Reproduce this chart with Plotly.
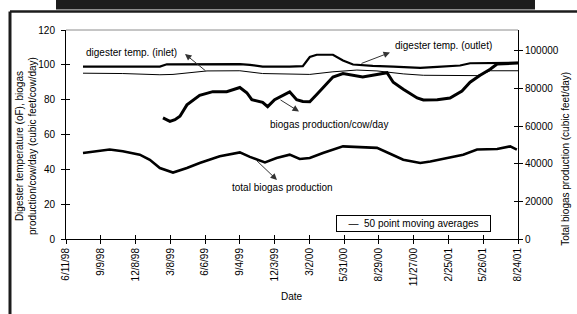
import plotly.graph_objects as go

# ---------------- data ----------------
outlet_dates = ["1998-07-25", "1998-09-07", "1998-11-05", "1999-01-14", "1999-02-09",
                "1999-02-27", "1999-06-11", "1999-09-04", "1999-09-30", "1999-11-02",
                "2000-01-11", "2000-02-14", "2000-03-03", "2000-03-21", "2000-05-02",
                "2000-05-28", "2000-06-23", "2000-08-13", "2000-10-05", "2000-12-14",
                "2001-01-27", "2001-03-27", "2001-04-22", "2001-06-13", "2001-08-24"]
outlet_temp = [99.0, 99.0, 98.9, 99.0, 99.0,
               100.3, 100.4, 100.4, 100.0, 99.0,
               99.0, 99.3, 104.5, 105.8, 105.8,
               102.5, 100.2, 99.4, 99.0, 98.3,
               98.8, 99.6, 100.9, 101.1, 101.2]

inlet_dates = ["1998-07-25", "1998-11-05", "1999-02-09", "1999-03-15", "1999-06-11",
               "1999-09-04", "1999-11-02", "2000-01-11", "2000-03-03", "2000-05-02",
               "2000-07-03", "2000-08-24", "2000-10-31", "2000-12-22", "2001-05-10",
               "2001-06-01", "2001-06-13", "2001-08-24"]
inlet_temp = [95.2, 95.0, 94.3, 94.5, 96.5,
              96.6, 95.0, 94.5, 94.5, 96.0,
              97.0, 96.5, 94.8, 94.0, 93.8,
              95.5, 96.6, 96.6]

cow_dates = ["1999-02-17", "1999-03-07", "1999-03-20", "1999-04-02", "1999-04-20",
             "1999-05-23", "1999-06-26", "1999-08-01", "1999-09-04", "1999-09-22",
             "1999-10-05", "1999-11-02", "1999-11-15", "1999-12-03", "2000-01-11",
             "2000-01-29", "2000-02-14", "2000-03-03", "2000-03-21", "2000-04-16",
             "2000-05-02", "2000-05-28", "2000-06-23", "2000-07-18", "2000-08-24",
             "2000-09-19", "2000-10-05", "2000-10-31", "2000-12-06", "2000-12-22",
             "2001-01-27", "2001-03-01", "2001-04-01", "2001-04-22", "2001-05-18",
             "2001-06-13", "2001-07-01", "2001-08-24"]
cow_biogas = [69.5, 67.5, 68.5, 70.5, 77.0,
              82.5, 84.6, 84.6, 87.0, 84.0,
              80.0, 78.5, 76.0, 80.0, 84.5,
              80.0, 79.0, 78.8, 83.0, 89.0,
              93.0, 95.0, 94.0, 93.0, 94.5,
              95.5, 90.0, 86.0, 81.0, 79.8,
              80.0, 81.0, 85.0, 90.0, 94.0,
              97.5, 100.5, 101.0]

total_dates = ["1998-07-25", "1998-08-04", "1998-09-07", "1998-10-02", "1998-11-05",
               "1998-12-19", "1999-01-14", "1999-02-09", "1999-03-15", "1999-04-20",
               "1999-05-23", "1999-07-14", "1999-09-04", "1999-09-30", "1999-11-08",
               "1999-12-08", "2000-01-11", "2000-02-06", "2000-03-03", "2000-04-06",
               "2000-05-28", "2000-07-03", "2000-08-24", "2000-09-27", "2000-10-31",
               "2000-12-14", "2001-01-09", "2001-02-22", "2001-04-04", "2001-05-10",
               "2001-07-01", "2001-08-04", "2001-08-21"]
total_biogas = [45700, 46000, 47100, 47500, 46600,
                44800, 42100, 37700, 35300, 37700,
                40400, 43900, 46000, 43600, 40700,
                43000, 44800, 42500, 43000, 45700,
                49200, 48900, 48400, 45300, 42100,
                40400, 41200, 43000, 44800, 47500,
                47800, 49200, 47500]

tick_dates = ["1998-06-11", "1998-09-09", "1998-12-08", "1999-03-08", "1999-06-06",
              "1999-09-04", "1999-12-03", "2000-03-02", "2000-05-31", "2000-08-29",
              "2000-11-27", "2001-02-25", "2001-05-26", "2001-08-24"]
tick_labels = ["6/11/98", "9/9/98", "12/8/98", "3/8/99", "6/6/99", "9/4/99", "12/3/99",
               "3/2/00", "5/31/00", "8/29/00", "11/27/00", "2/25/01", "5/26/01", "8/24/01"]

left_ticks = [0, 20, 40, 60, 80, 100, 120]
right_ticks = [0, 20000, 40000, 60000, 80000, 100000]
right_labels = ["0", "20000", "40000", "60000", "80000", "100000"]

# ---------------- figure ----------------
FONT = "Liberation Sans, Arial, sans-serif"
X_RANGE = [tick_dates[0], tick_dates[-1]]
Y_RANGE = [0, 120]
Y2_RANGE = [0, 111000]

fig = go.Figure()
fig.add_trace(go.Scatter(x=outlet_dates, y=outlet_temp, mode="lines",
                         line=dict(color="black", width=2.2), name="outlet"))
fig.add_trace(go.Scatter(x=inlet_dates, y=inlet_temp, mode="lines",
                         line=dict(color="black", width=1), name="inlet"))
fig.add_trace(go.Scatter(x=cow_dates, y=cow_biogas, mode="lines",
                         line=dict(color="black", width=3), name="cow"))
fig.add_trace(go.Scatter(x=total_dates, y=total_biogas, mode="lines", yaxis="y2",
                         line=dict(color="black", width=2.6), name="total"))
# invisible helpers so the overlay axes (inner tick halves) get drawn
fig.add_trace(go.Scatter(x=[tick_dates[0]], y=[None], xaxis="x2", yaxis="y3",
                         mode="lines", hoverinfo="skip"))
fig.add_trace(go.Scatter(x=[tick_dates[0]], y=[None], xaxis="x2", yaxis="y4",
                         mode="lines", hoverinfo="skip"))

tickfont = dict(family=FONT, size=10, color="black")
common_x = dict(range=X_RANGE, type="date", tickmode="array", tickvals=tick_dates,
                showgrid=False, zeroline=False, ticklen=4, tickcolor="black", tickwidth=1)
fig.update_layout(
    width=577, height=314, autosize=False,
    margin=dict(l=66, r=59, t=30, b=75),
    paper_bgcolor="white", plot_bgcolor="white",
    showlegend=False,
    font=dict(family=FONT, size=10, color="black"),
    xaxis=dict(**common_x, ticktext=tick_labels, tickangle=-90, ticks="outside",
               showline=True, linecolor="black", linewidth=1, tickfont=tickfont),
    xaxis2=dict(**common_x, overlaying="x", anchor="y", side="bottom", ticks="inside",
                showticklabels=False, showline=False),
    yaxis=dict(range=Y_RANGE, tickmode="array", tickvals=left_ticks, ticks="outside",
               ticklen=4, tickcolor="black", showline=True, linecolor="black",
               showgrid=False, zeroline=False, tickfont=tickfont, ticklabelstandoff=4),
    yaxis2=dict(range=Y2_RANGE, overlaying="y", side="right", tickmode="array",
                tickvals=right_ticks, ticktext=right_labels, ticks="outside", ticklen=4,
                tickcolor="black", showline=True, linecolor="black", showgrid=False,
                zeroline=False, tickfont=tickfont),
    yaxis3=dict(range=Y_RANGE, overlaying="y", side="left", tickmode="array",
                tickvals=left_ticks, ticks="inside", ticklen=4, tickcolor="black",
                showticklabels=False, showgrid=False, zeroline=False),
    yaxis4=dict(range=Y2_RANGE, overlaying="y", side="right", tickmode="array",
                tickvals=right_ticks, ticks="inside", ticklen=4, tickcolor="black",
                showticklabels=False, showgrid=False, zeroline=False),
)

# ---------------- decorations (paper coordinates) ----------------
shapes = [
    dict(type="line", xref="paper", yref="paper", x0=0, x1=1, y0=1, y1=1,
         line=dict(color="#8c8c8c", width=1)),
    dict(type="rect", xref="paper", yref="paper", x0=-0.0221, x1=1.0376, y0=1.098, y1=1.16,
         fillcolor="#1c1c1c", line=dict(width=0)),
    dict(type="line", xref="paper", yref="paper", x0=-0.1239, x1=1.14, y0=1.0885, y1=1.0885,
         line=dict(color="#1c1c1c", width=2.5)),
    dict(type="line", xref="paper", yref="paper", x0=-0.1239, x1=-0.1239, y0=1.0885, y1=-0.37,
         line=dict(color="#1c1c1c", width=3)),
]
fig.update_layout(shapes=shapes)

afont = dict(family=FONT, size=10, color="black")
arrow = dict(text="", showarrow=True, arrowhead=2, arrowsize=1.3, arrowwidth=1,
             arrowcolor="#333333", xref="paper", yref="paper", axref="pixel", ayref="pixel")
annotations = [
    # labels
    dict(text="digester temp. (inlet)", x=0.25, y=0.8947, xref="paper", yref="paper",
         xanchor="right", yanchor="middle", showarrow=False, font=afont),
    dict(text="digester temp. (outlet)", x=0.7235, y=0.928, xref="paper", yref="paper",
         xanchor="left", yanchor="middle", showarrow=False, font=afont),
    dict(text="biogas production/cow/day", x=0.4469, y=0.5455, xref="paper", yref="paper",
         xanchor="left", yanchor="middle", showarrow=False, font=afont),
    dict(text="total biogas production", x=0.3628, y=0.2464, xref="paper", yref="paper",
         xanchor="left", yanchor="middle", showarrow=False, font=afont),
    # arrows (head at x,y ; tail offset in pixels)
    dict(**arrow, x=0.2633, y=0.8852, ax=22, ay=18),
    dict(**arrow, x=0.7168, y=0.8923, ax=-30, ay=11.5),
    dict(**arrow, x=0.5155, y=0.6100, ax=-20, ay=-12.5),
    dict(**arrow, x=0.4668, y=0.2823, ax=-22, ay=-21),
    # legend box
    dict(text="\u2014  50 point moving averages", x=0.7688, y=0.0718, xref="paper",
         yref="paper", xanchor="center", yanchor="middle", showarrow=False, font=afont,
         bordercolor="black", borderwidth=1, borderpad=2, bgcolor="white",
         width=149, height=11),
    # axis titles
    dict(text="Digester temperature (oF), biogas<br>production/cow/day (cubic feet/cow/day)",
         x=-0.0885, y=0.445, xref="paper", yref="paper", textangle=-90, showarrow=False,
         xanchor="center", yanchor="middle", font=afont),
    dict(text="Total biogas production (cubic feet/day)", x=1.106, y=0.383, xref="paper",
         yref="paper", textangle=-90, showarrow=False, xanchor="center", yanchor="middle",
         font=afont),
    dict(text="Date", x=0.5, y=-0.2775, xref="paper", yref="paper", showarrow=False,
         xanchor="center", yanchor="middle", font=afont),
]
fig.update_layout(annotations=annotations)

fig.write_html("out.html", config={"displayModeBar": False},
               post_script="document.body.style.margin='0px';document.body.style.overflow='hidden';")
